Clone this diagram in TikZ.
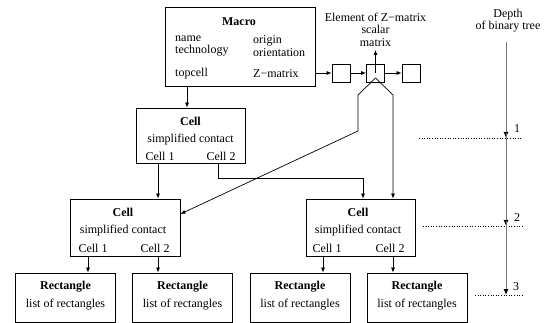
\documentclass[tikz,border=0pt]{standalone}
\usepackage{fontspec}
\setmainfont{Liberation Serif}
\usepackage{tikz}
\usetikzlibrary{arrows.meta,positioning}
\definecolor{depthgray}{RGB}{120,120,120}

\begin{document}
\begin{tikzpicture}[x=1pt, y=-1pt, every node/.style={font=\fontsize{12}{12.5}\selectfont, inner sep=0pt},
    box/.style={draw, line width=0.8pt, rectangle},
    elem/.style={draw, line width=0.8pt, minimum width=18pt, minimum height=18pt},
    link/.style={line width=0.7pt, -{Latex[length=5pt,width=4pt]}},
    level/.style={dotted, line width=0.6pt},
    depth/.style={line width=1pt, depthgray, -{Latex[length=6pt,width=5pt,black]}}]
    \useasboundingbox (0,0) rectangle (549,323);
    % macro
    \node[box, minimum width=150pt, minimum height=79pt] (macro) at (240,46.5) {};
    \node[font=\fontsize{12}{12.5}\selectfont\bfseries] (macrot) at (239,21.5) {Macro};
    \node[anchor=west, align=left] (macrol) at (175,46) {name\\technology};
    \node[anchor=west, align=left] (macror) at (253,46) {origin\\orientation};
    \node[anchor=west] (topcell) at (175,73.5) {topcell};
    \node[anchor=west] (zmat) at (253,73.5) {Z\textminus matrix};
    % elements of the Z-matrix
    \node[elem] (e1) at (341,73) {};
    \node[elem] (e2) at (375.5,73) {};
    \node[elem] (e3) at (411,73) {};
    \node[align=center] (elemt) at (375.5,29.5) {Element of Z\textminus matrix\\scalar\\matrix};
    \coordinate (eup) at (375.5,50);
    % cells
    \node[box, minimum width=109pt, minimum height=55pt] (cell) at (190.5,135.5) {};
    \node[font=\fontsize{12}{12.5}\selectfont\bfseries] (cellt) at (190.5,121) {Cell};
    \node (cellc) at (190.5,139.5) {simplified contact};
    \node (cella) at (160,156) {Cell 1};
    \node (cellb) at (221,156) {Cell 2};
    \node[box, minimum width=110pt, minimum height=57pt] (lcell) at (125,227.5) {};
    \node[font=\fontsize{12}{12.5}\selectfont\bfseries] (lcellt) at (123,212) {Cell};
    \node (lcellc) at (123,231) {simplified contact};
    \node (lcella) at (93,248) {Cell 1};
    \node (lcellb) at (155,248) {Cell 2};
    \node[box, minimum width=109pt, minimum height=57pt] (rcell) at (360.5,227.5) {};
    \node[font=\fontsize{12}{12.5}\selectfont\bfseries] (rcellt) at (358,212) {Cell};
    \node (rcellc) at (358,231) {simplified contact};
    \node (rcella) at (327,248) {Cell 1};
    \node (rcellb) at (390,248) {Cell 2};
    % rectangles
    \foreach \n/\x in {r1/65.5, r2/182.5, r3/300, r4/417} {
        \node[box, minimum width=100pt, minimum height=49pt] (\n) at (\x,297.5) {};
        \node[font=\fontsize{12}{12.5}\selectfont\bfseries] (\n t) at (\x,287) {Rectangle};
        \node (\n l) at (\x,304.5) {list of rectangles};
    }
    % connectors
    \draw[link] (macro.south -| 187,0) -- (cell.north -| 187,0);
    \draw[link] (macro.east |- e1) -- (e1);
    \draw[link] (e1) -- (e2);
    \draw[link] (e2) -- (e3);
    \draw[link] (e2.center) -- (eup);
    \draw[link] (375.5,78) -- (358,95) -- (358,131) -- (lcell.east |- 0,214);
    \draw[link] (375.5,78) -- (393,95) -- (rcell.north -| 393,0);
    \draw[link] (cell.south -| 158,0) -- (lcell.north -| 158,0);
    \draw[link] (cell.south -| 218,0) -- (218,178) -- (363,178) -- (rcell.north -| 363,0);
    \draw[link] (lcell.south -| 88,0) -- (r1.north -| 88,0);
    \draw[link] (lcell.south -| 158,0) -- (r2.north -| 158,0);
    \draw[link] (rcell.south -| 323,0) -- (r3.north -| 323,0);
    \draw[link] (rcell.south -| 393,0) -- (r4.north -| 393,0);
    % depth of the binary tree
    \node[align=center] (deptht) at (508,20.5) {Depth\\of binary tree};
    \coordinate (d0) at (506,42);
    \coordinate (d1) at (506,138);
    \coordinate (d2) at (506,226);
    \coordinate (d3) at (506,295);
    \draw[level] (419,138) -- (522,138);
    \draw[level] (423,226) -- (522,226);
    \draw[level] (475,295) -- (522,295);
    \draw[depth] (d0) -- (d1);
    \draw[depth] ([yshift=5pt]d1) -- (d2);
    \draw[depth] ([yshift=5pt]d2) -- (d3);
    \node (l1) at (517,129) {1};
    \node (l2) at (517,218) {2};
    \node (l3) at (516,287) {3};
\end{tikzpicture}
\end{document}
